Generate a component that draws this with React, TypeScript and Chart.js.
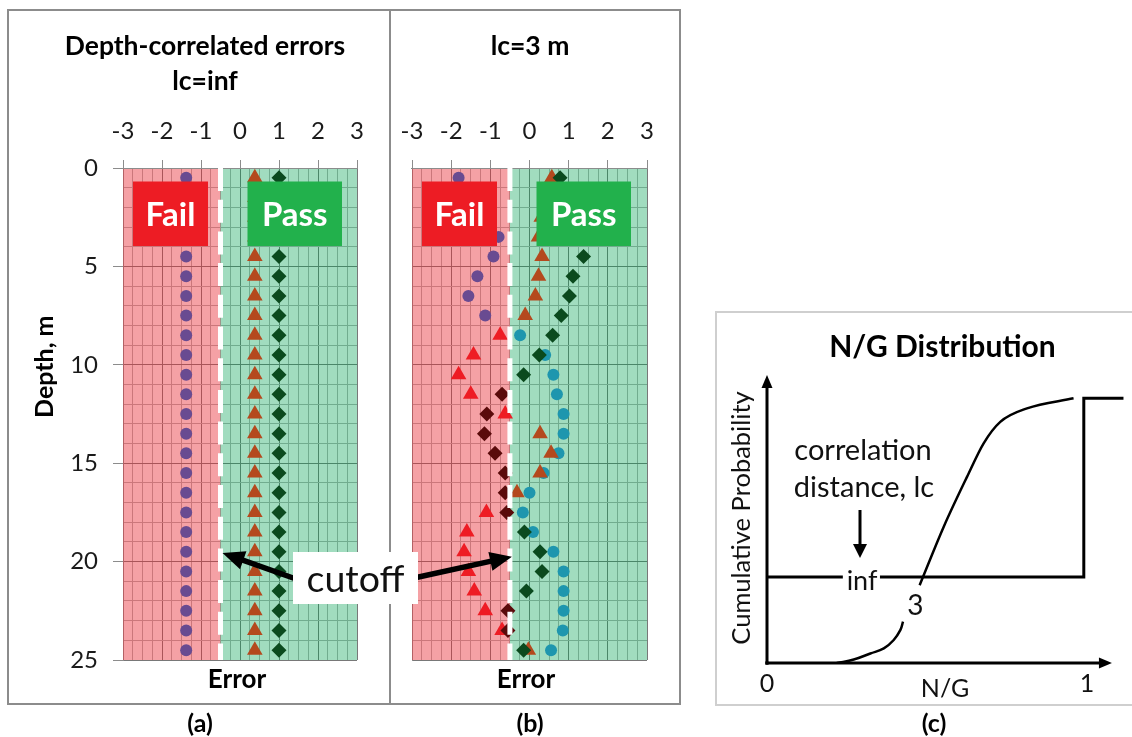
import React, { useEffect, useRef } from 'react';
import { Chart, registerables } from 'chart.js';

Chart.register(...registerables);

const FONT = "Lato, 'Open Sans', 'DejaVu Sans', sans-serif";
const CUTOFF = -0.5;

// ---------- data ----------
const depths = [0.5, 1.5, 2.5, 3.5, 4.5, 5.5, 6.5, 7.5, 8.5, 9.5, 10.5, 11.5, 12.5, 13.5, 14.5, 15.5, 16.5, 17.5, 18.5, 19.5, 20.5, 21.5, 22.5, 23.5, 24.5];
const errorTickLabels = [-3, -2, -1, 0, 1, 2, 3];
const depthTickLabels = [0, 5, 10, 15, 20, 25];

// (a) lc = inf
const infCircles = [-1.38, -1.38, -1.38, -1.38, -1.38, -1.38, -1.38, -1.38, -1.38, -1.38, -1.38, -1.38, -1.38, -1.38, -1.38, -1.38, -1.38, -1.38, -1.38, -1.38, -1.38, -1.38, -1.38, -1.38, -1.38];
const infTriangles = [0.38, 0.38, 0.38, 0.38, 0.38, 0.38, 0.38, 0.38, 0.38, 0.38, 0.38, 0.38, 0.38, 0.38, 0.38, 0.38, 0.38, 0.38, 0.38, 0.38, 0.38, 0.38, 0.38, 0.38, 0.38];
const infDiamonds = [1.0, 1.0, 1.0, 1.0, 1.0, 1.0, 1.0, 1.0, 1.0, 1.0, 1.0, 1.0, 1.0, 1.0, 1.0, 1.0, 1.0, 1.0, 1.0, 1.0, 1.0, 1.0, 1.0, 1.0, 1.0];

// (b) lc = 3 m
const lc3Circles = [-1.81, -1.55, -1.05, -0.79, -0.92, -1.33, -1.56, -1.13, -0.24, 0.4, 0.61, 0.7, 0.87, 0.87, 0.74, 0.36, 0.0, -0.17, 0.09, 0.61, 0.87, 0.87, 0.87, 0.85, 0.55];
const lc3Triangles = [0.57, 0.45, 0.3, 0.23, 0.32, 0.23, 0.15, -0.11, -0.75, -1.43, -1.81, -1.5, -0.62, 0.27, 0.55, 0.27, -0.32, -1.1, -1.6, -1.67, -1.56, -1.41, -1.13, -0.7, -0.03];
const lc3Diamonds = [0.78, 1.0, 1.2, 1.3, 1.38, 1.11, 1.02, 0.81, 0.59, 0.25, -0.15, -0.7, -1.09, -1.15, -0.88, -0.62, -0.62, -0.58, -0.13, 0.27, 0.32, -0.08, -0.55, -0.55, -0.15];

// (c) N/G distribution
const ngInfX = [0, 0.99, 0.99, 1.114];
const ngInfY = [0.325, 0.325, 1.0, 1.0];
const ng3LowX = [0.218, 0.271, 0.323, 0.365, 0.396, 0.417, 0.425];
const ng3LowY = [0, 0.013, 0.036, 0.055, 0.087, 0.125, 0.156];
const ng3HighX = [0.477, 0.552, 0.625, 0.677, 0.729, 0.8125, 0.958];
const ng3HighY = [0.294, 0.514, 0.703, 0.83, 0.911, 0.962, 1.0];

// ---------- styles ----------
const FAIL_FILL = 'rgba(232,40,50,0.44)';
const PASS_FILL = 'rgba(0,160,82,0.37)';
const GRID_MINOR = 'rgb(180,180,180)';
const GRID_MAJOR = 'rgb(120,120,120)';
const CIR_PASS = '#1e96ae';
const CIR_FAIL = '#694b91';
const TRI_PASS = '#b4491e';
const TRI_FAIL = '#ee1c24';
const DIA_PASS = '#0b4a1e';
const DIA_FAIL = '#5a0b0b';

const isInt = (v: number) => Math.abs(v - Math.round(v)) < 1e-6;

function txt(ctx: CanvasRenderingContext2D, s: string, x: number, y: number, size: number, bold = false, color = '#000', align: CanvasTextAlign = 'center') {
  ctx.save();
  ctx.font = `${bold ? 'bold ' : ''}${size}px ${FONT}`;
  ctx.fillStyle = color;
  ctx.textAlign = align;
  ctx.textBaseline = 'alphabetic';
  ctx.fillText(s, x, y);
  ctx.restore();
}

function arrow(ctx: CanvasRenderingContext2D, x1: number, y1: number, x2: number, y2: number, shaft: number, headLen: number, headW: number) {
  const a = Math.atan2(y2 - y1, x2 - x1);
  const bx = x2 - Math.cos(a) * headLen;
  const by = y2 - Math.sin(a) * headLen;
  ctx.save();
  ctx.strokeStyle = '#000';
  ctx.fillStyle = '#000';
  ctx.lineWidth = shaft;
  ctx.lineCap = 'butt';
  ctx.beginPath();
  ctx.moveTo(x1, y1);
  ctx.lineTo(bx + Math.cos(a) * 2, by + Math.sin(a) * 2);
  ctx.stroke();
  ctx.beginPath();
  ctx.moveTo(x2, y2);
  ctx.lineTo(bx + Math.sin(a) * headW / 2, by - Math.cos(a) * headW / 2);
  ctx.lineTo(bx - Math.sin(a) * headW / 2, by + Math.cos(a) * headW / 2);
  ctx.closePath();
  ctx.fill();
  ctx.restore();
}

type ErrorPanel = {
  left: number;
  right: number;
  circles: number[];
  triangles: number[];
  diamonds: number[];
  showDepth: boolean;
  titles: { text: string; x: number; y: number }[];
  errorX: number;
  panelLabel: { text: string; x: number };
  arrowTail: [number, number];
  arrowTipDepth: number;
  first: boolean;
};

const TOP = 168;
const BOTTOM = 660;

function errorConfig(p: ErrorPanel): any {
  const pts = (vals: number[]) => depths.map((d, i) => ({ x: vals[i], y: d }));
  const col = (pass: string, fail: string) => (c: any) => (c.raw && c.raw.x < CUTOFF ? fail : pass);

  const plugin = {
    id: 'errorDecor' + p.left,
    beforeDatasetsDraw(chart: any) {
      const { ctx, chartArea: a, scales } = chart;
      const cx = scales.x.getPixelForValue(CUTOFF);
      ctx.save();
      ctx.fillStyle = FAIL_FILL;
      ctx.fillRect(a.left, a.top, cx - a.left, a.bottom - a.top);
      ctx.fillStyle = PASS_FILL;
      ctx.fillRect(cx, a.top, a.right - cx, a.bottom - a.top);
      ctx.strokeStyle = '#8c8c8c';
      ctx.lineWidth = 1;
      ctx.beginPath();
      ctx.moveTo(a.left - 1, Math.round(a.top) + 0.5);
      ctx.lineTo(a.right + 1, Math.round(a.top) + 0.5);
      ctx.stroke();
      ctx.restore();
    },
    afterDatasetsDraw(chart: any) {
      const { ctx, chartArea: a, scales } = chart;
      const cx = scales.x.getPixelForValue(CUTOFF);
      ctx.save();
      ctx.strokeStyle = '#fff';
      ctx.lineWidth = 5;
      ctx.setLineDash([23, 8.7]);
      ctx.beginPath();
      ctx.moveTo(cx, a.top);
      ctx.lineTo(cx, a.bottom);
      ctx.stroke();
      ctx.restore();
      const y0 = a.top + 13.5;
      const h = 64.5;
      ctx.save();
      ctx.fillStyle = '#ed1c24';
      ctx.fillRect(a.left + 10, y0, 75, h);
      ctx.fillStyle = '#22b14c';
      ctx.fillRect(a.left + 124.5, y0, 94.5, h);
      ctx.restore();
      txt(ctx, 'Fail', a.left + 47.5, y0 + 44, 33, true, '#fff');
      txt(ctx, 'Pass', a.left + 171.75, y0 + 44, 33, true, '#fff');
    },
    afterDraw(chart: any) {
      const { ctx, scales } = chart;
      if (p.first) {
        ctx.save();
        ctx.strokeStyle = '#8c8c8c';
        ctx.lineWidth = 2;
        ctx.strokeRect(8, 10, 672, 694);
        ctx.beginPath();
        ctx.moveTo(390, 10);
        ctx.lineTo(390, 704);
        ctx.stroke();
        ctx.restore();
      }
      p.titles.forEach((t) => txt(ctx, t.text, t.x, t.y, 26.5, true));
      txt(ctx, 'Error', p.errorX, 688, 26, true);
      txt(ctx, p.panelLabel.text, p.panelLabel.x, 732, 25, true);
      if (p.showDepth) {
        ctx.save();
        ctx.translate(53, 366.7);
        ctx.rotate(-Math.PI / 2);
        txt(ctx, 'Depth, m', 0, 0, 25, true);
        ctx.restore();
      }
      const tipX = scales.x.getPixelForValue(CUTOFF) + 2;
      const tipY = scales.y.getPixelForValue(p.arrowTipDepth);
      arrow(ctx, p.arrowTail[0], p.arrowTail[1], tipX, tipY, 5.5, 22, 19);
      if (!p.first) {
        ctx.save();
        ctx.fillStyle = '#fff';
        ctx.fillRect(293, 552, 125, 52);
        ctx.restore();
        txt(ctx, 'cutoff', 355.5, 592, 37.5, false, '#111');
      }
    },
  };

  return {
    type: 'scatter',
    data: {
      datasets: [
        { data: pts(p.diamonds), pointStyle: 'rectRot', pointRadius: 7.5, pointBackgroundColor: col(DIA_PASS, DIA_FAIL), pointBorderWidth: 0 },
        { data: pts(p.triangles), pointStyle: 'triangle', pointRadius: 9, pointBackgroundColor: col(TRI_PASS, TRI_FAIL), pointBorderWidth: 0 },
        { data: pts(p.circles), pointStyle: 'circle', pointRadius: 6, pointBackgroundColor: col(CIR_PASS, CIR_FAIL), pointBorderWidth: 0 },
      ],
    },
    options: {
      animation: false,
      responsive: false,
      maintainAspectRatio: false,
      devicePixelRatio: 1,
      events: [],
      layout: { padding: { left: p.left - 60, right: 1132 - p.right, top: TOP - 50, bottom: 737 - BOTTOM } },
      plugins: { legend: { display: false }, tooltip: { enabled: false }, title: { display: false } },
      scales: {
        x: {
          type: 'linear',
          position: 'top',
          min: -3,
          max: 3,
          afterFit: (s: any) => { s.height = 50; s.paddingLeft = 0; s.paddingRight = 0; },
          ticks: {
            stepSize: 0.25,
            autoSkip: false,
            maxRotation: 0,
            padding: 14,
            color: '#1a1a1a',
            font: { family: FONT, size: 24 },
            callback: (v: number) => (isInt(v) && errorTickLabels.includes(Math.round(v)) ? String(Math.round(v)) : ''),
          },
          grid: {
            color: (c: any) => (isInt(c.tick.value) ? GRID_MAJOR : GRID_MINOR),
            tickColor: (c: any) => (isInt(c.tick.value) ? '#8c8c8c' : 'rgba(0,0,0,0)'),
            tickLength: 8,
            lineWidth: 1,
          },
          border: { color: '#8c8c8c', width: 1 },
        },
        y: {
          type: 'linear',
          reverse: true,
          min: 0,
          max: 25,
          afterFit: (s: any) => { s.width = 60; s.paddingTop = 0; s.paddingBottom = 0; },
          ticks: {
            display: p.showDepth,
            stepSize: 1,
            autoSkip: false,
            padding: 15,
            color: '#1a1a1a',
            font: { family: FONT, size: 24 },
            callback: (v: number) => (depthTickLabels.includes(v) ? String(v) : ''),
          },
          grid: {
            color: (c: any) => (Math.round(c.tick.value) % 5 === 0 ? GRID_MAJOR : GRID_MINOR),
            tickColor: (c: any) => (p.showDepth && Math.round(c.tick.value) % 5 === 0 ? '#8c8c8c' : 'rgba(0,0,0,0)'),
            tickLength: 10,
            lineWidth: 1,
          },
          border: { color: '#8c8c8c', width: 1 },
        },
      },
    },
    plugins: [plugin],
  };
}

const panelA: ErrorPanel = {
  left: 123,
  right: 357,
  circles: infCircles,
  triangles: infTriangles,
  diamonds: infDiamonds,
  showDepth: true,
  titles: [
    { text: 'Depth-correlated errors', x: 205, y: 55 },
    { text: 'lc=inf', x: 205, y: 90 },
  ],
  errorX: 237,
  panelLabel: { text: '(a)', x: 200 },
  arrowTail: [296, 579],
  arrowTipDepth: 19.56,
  first: true,
};

const panelB: ErrorPanel = {
  left: 412,
  right: 647,
  circles: lc3Circles,
  triangles: lc3Triangles,
  diamonds: lc3Diamonds,
  showDepth: false,
  titles: [{ text: 'lc=3 m', x: 530, y: 55 }],
  errorX: 526,
  panelLabel: { text: '(b)', x: 530 },
  arrowTail: [414, 578],
  arrowTipDepth: 19.75,
  first: false,
};

function ngConfig(): any {
  const toPts = (xs: number[], ys: number[]) => xs.map((x, i) => ({ x, y: ys[i] }));
  const plugin = {
    id: 'ngDecor',
    afterDatasetsDraw(chart: any) {
      const { ctx, scales } = chart;
      const X = (v: number) => scales.x.getPixelForValue(v);
      const Y = (v: number) => scales.y.getPixelForValue(v);
      ctx.save();
      ctx.strokeStyle = '#cfcfcf';
      ctx.lineWidth = 2;
      ctx.strokeRect(716, 312, 430, 393);
      ctx.restore();
      const x0 = X(0);
      const y0 = Y(0);
      ctx.save();
      ctx.fillStyle = '#000';
      ctx.fillRect(x0 - 1.5, y0 - 1.5, 3, 3);
      ctx.restore();
      arrow(ctx, x0 - 1.5, y0, X(1.078), y0, 3, 13, 11);
      arrow(ctx, x0, y0 + 1.5, x0, Y(1.088), 3, 13, 11);
      ctx.save();
      ctx.fillStyle = '#fff';
      ctx.fillRect(X(0.237), Y(0.325) - 10, X(0.353) - X(0.237), 20);
      ctx.restore();
      txt(ctx, 'inf', X(0.297), 590, 27, false, '#111');
      txt(ctx, '3', X(0.464), 615, 28, false, '#111');
      txt(ctx, 'correlation', 863, 460, 29, false, '#111');
      txt(ctx, 'distance, lc', 864, 497, 29, false, '#111');
      arrow(ctx, 860, 510, 860, 558, 3, 14, 14);
      txt(ctx, 'N/G Distribution', 942.5, 357, 30, true);
      txt(ctx, '0', x0, 692, 25, false, '#111');
      txt(ctx, '1', X(1), 692, 25, false, '#111');
      txt(ctx, 'N/G', 945, 697, 25, false, '#111');
      ctx.save();
      ctx.translate(750, 518);
      ctx.rotate(-Math.PI / 2);
      txt(ctx, 'Cumulative Probability', 0, 0, 25.5, false, '#111');
      ctx.restore();
      txt(ctx, '(c)', 934, 732, 25, true);
    },
  };
  const left = 767;
  const bottomPx = 663;
  const pxX = 320;
  const pxY = 264.7;
  return {
    type: 'scatter',
    data: {
      datasets: [
        { data: toPts(ngInfX, ngInfY), showLine: true, borderColor: '#000', borderWidth: 3, pointRadius: 0, tension: 0, borderJoinStyle: 'miter' },
        { data: toPts(ng3LowX, ng3LowY), showLine: true, borderColor: '#000', borderWidth: 2.5, pointRadius: 0, tension: 0.4 },
        { data: toPts(ng3HighX, ng3HighY), showLine: true, borderColor: '#000', borderWidth: 2.5, pointRadius: 0, cubicInterpolationMode: 'monotone' },
      ],
    },
    options: {
      animation: false,
      responsive: false,
      maintainAspectRatio: false,
      devicePixelRatio: 1,
      events: [],
      layout: { padding: { left, right: 1132 - (left + 1.12 * pxX), top: bottomPx - 1.1 * pxY, bottom: 737 - bottomPx } },
      plugins: { legend: { display: false }, tooltip: { enabled: false } },
      scales: {
        x: { type: 'linear', min: 0, max: 1.12, display: false },
        y: { type: 'linear', min: 0, max: 1.1, display: false },
      },
    },
    plugins: [plugin],
  };
}

export default function App() {
  const refA = useRef<HTMLCanvasElement>(null);
  const refB = useRef<HTMLCanvasElement>(null);
  const refC = useRef<HTMLCanvasElement>(null);

  useEffect(() => {
    const charts = [
      new Chart(refA.current!, errorConfig(panelA)),
      new Chart(refB.current!, errorConfig(panelB)),
      new Chart(refC.current!, ngConfig()),
    ];
    return () => charts.forEach((c) => c.destroy());
  }, []);

  const cs: React.CSSProperties = { position: 'absolute', left: 0, top: 0, width: 1132, height: 737 };
  return (
    <div style={{ position: 'absolute', left: 0, top: 0, width: 1132, height: 737, background: '#fff', overflow: 'hidden' }}>
      <canvas ref={refA} width={1132} height={737} style={cs} />
      <canvas ref={refB} width={1132} height={737} style={cs} />
      <canvas ref={refC} width={1132} height={737} style={cs} />
    </div>
  );
}
